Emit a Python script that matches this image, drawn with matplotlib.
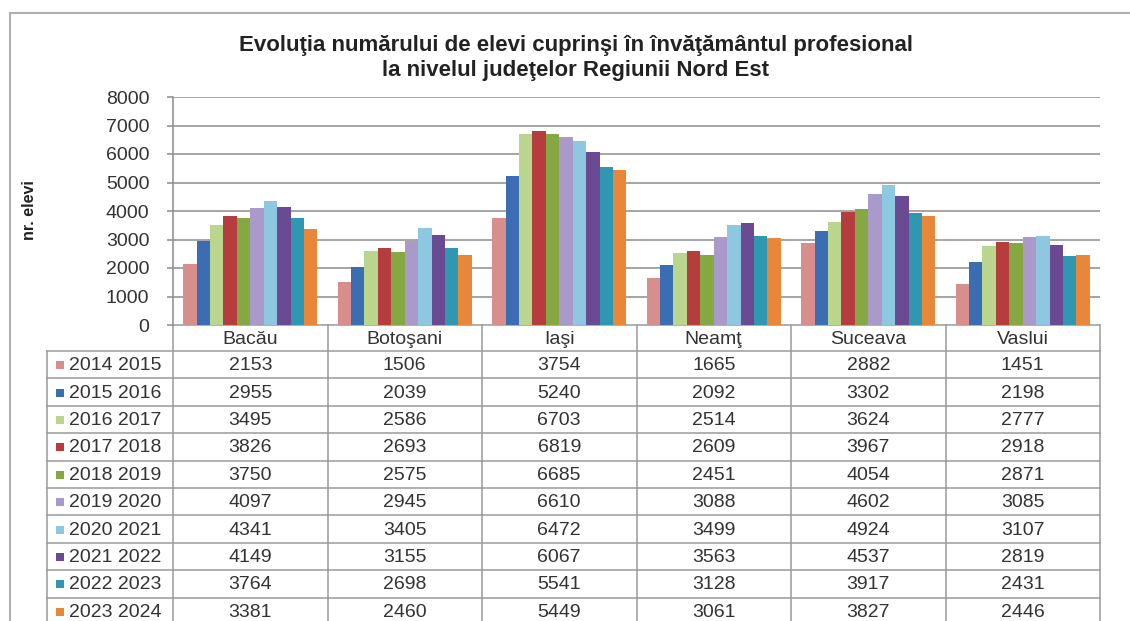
import matplotlib
matplotlib.use("Agg")
import matplotlib.pyplot as plt
from matplotlib.transforms import blended_transform_factory
from matplotlib.patches import Rectangle

plt.rcParams['font.family'] = ['Liberation Sans', 'DejaVu Sans']

categories = ["Bacău", "Botoşani", "Iaşi", "Neamţ", "Suceava", "Vaslui"]
series_labels = ["2014 2015", "2015 2016", "2016 2017", "2017 2018", "2018 2019",
                 "2019 2020", "2020 2021", "2021 2022", "2022 2023", "2023 2024"]
v_2014_2015 = [2153, 1506, 3754, 1665, 2882, 1451]
v_2015_2016 = [2955, 2039, 5240, 2092, 3302, 2198]
v_2016_2017 = [3495, 2586, 6703, 2514, 3624, 2777]
v_2017_2018 = [3826, 2693, 6819, 2609, 3967, 2918]
v_2018_2019 = [3750, 2575, 6685, 2451, 4054, 2871]
v_2019_2020 = [4097, 2945, 6610, 3088, 4602, 3085]
v_2020_2021 = [4341, 3405, 6472, 3499, 4924, 3107]
v_2021_2022 = [4149, 3155, 6067, 3563, 4537, 2819]
v_2022_2023 = [3764, 2698, 5541, 3128, 3917, 2431]
v_2023_2024 = [3381, 2460, 5449, 3061, 3827, 2446]
series_values = [v_2014_2015, v_2015_2016, v_2016_2017, v_2017_2018, v_2018_2019,
                 v_2019_2020, v_2020_2021, v_2021_2022, v_2022_2023, v_2023_2024]
yticks = [0, 1000, 2000, 3000, 4000, 5000, 6000, 7000, 8000]

colors = ["#D98E8E", "#3B6DB3", "#B9D58E", "#B63D3D", "#85A842",
          "#A99ACA", "#8DC8E0", "#6A4A92", "#2F97B0", "#E8873A"]

title = "Evoluţia numărului de elevi cuprinşi în învăţământul profesional\nla nivelul judeţelor Regiunii Nord Est"

W, H = 1130, 621
fig = plt.figure(figsize=(W / 100, H / 100), dpi=100)
fig.patch.set_facecolor("white")

# overlay axes in pixel coordinates
ov = fig.add_axes([0, 0, 1, 1])
ov.set_xlim(0, W)
ov.set_ylim(H, 0)
ov.axis("off")

# main plot area
L, R, T, B = 173, 1100, 97, 325
ax = fig.add_axes([L / W, (H - B) / H, (R - L) / W, (B - T) / H])
ax.set_xlim(-0.5, len(categories) - 0.5)
ax.set_ylim(0, 8000)
ax.set_zorder(2)
ax.patch.set_alpha(0)

grid_c = "#8c8c8c"
n = len(series_values)
bw = 1 / 11.5
for i, (vals, c, lab) in enumerate(zip(series_values, colors, series_labels)):
    xs = [k + (i - (n - 1) / 2) * bw for k in range(len(categories))]
    ax.bar(xs, vals, width=bw, color=c, label=lab, zorder=3, linewidth=0)

ax.set_yticks(yticks)
ax.set_yticklabels([str(t) for t in yticks], fontsize=14, color="#333333")
ax.set_xticks([])
for y in yticks[1:]:
    ax.axhline(y, color=grid_c, lw=1.1, zorder=1)
for s in ["top", "right", "bottom"]:
    ax.spines[s].set_visible(False)
ax.spines["left"].set_color(grid_c)
ax.spines["left"].set_linewidth(1.1)
ax.tick_params(axis="y", length=4, width=1.1, color=grid_c, pad=13)

ov.text(30, 210, "nr. elevi", rotation=90, ha="center", va="center",
        fontsize=11.5, fontweight="bold", color="#222222")

ov.text(576, 58, title, ha="center", va="center", fontsize=16,
        fontweight="bold", color="#222222", linespacing=1.3)

# frame of the chart area
ov.plot([10, W], [13, 13], color="#b0b0b0", lw=1.5)
ov.plot([10, 10], [13, H], color="#b0b0b0", lw=1.5)

# data table
tr = blended_transform_factory(ax.transData, ov.transData)
line_c = "#9a9a9a"
hdr_top, hdr_bot = 325, 351
row_h = 27.4
nrows = len(series_values)
table_bottom = hdr_bot + row_h * nrows
legend_left = 47

for k in range(len(categories) + 1):
    xb = k - 0.5
    ov.plot([xb, xb], [hdr_top, table_bottom], color=line_c, lw=1.1, transform=tr)
ov.plot([legend_left, legend_left], [hdr_bot, table_bottom], color=line_c, lw=1.1)
ov.plot([-0.5, len(categories) - 0.5], [hdr_top, hdr_top], color=line_c, lw=1.1, transform=tr)
x_right_px = ax.transData.transform((len(categories) - 0.5, 0))[0]
for r in range(nrows + 1):
    yy = hdr_bot + r * row_h
    ov.plot([legend_left, x_right_px], [yy, yy], color=line_c, lw=1.1)

for k, cat in enumerate(categories):
    ov.text(k, (hdr_top + hdr_bot) / 2 + 1, cat, ha="center", va="center",
            fontsize=14, color="#333333", transform=tr)

for r, (lab, vals, c) in enumerate(zip(series_labels, series_values, colors)):
    yc = hdr_bot + (r + 0.5) * row_h + 1
    ov.add_patch(Rectangle((56, yc - 4.5), 8, 8, facecolor=c, edgecolor="none"))
    ov.text(69, yc, lab, ha="left", va="center", fontsize=14, color="#333333")
    for k, v in enumerate(vals):
        ov.text(k, yc, str(v), ha="center", va="center", fontsize=14,
                color="#333333", transform=tr)

fig.savefig("out.png", dpi=100, facecolor="white")
